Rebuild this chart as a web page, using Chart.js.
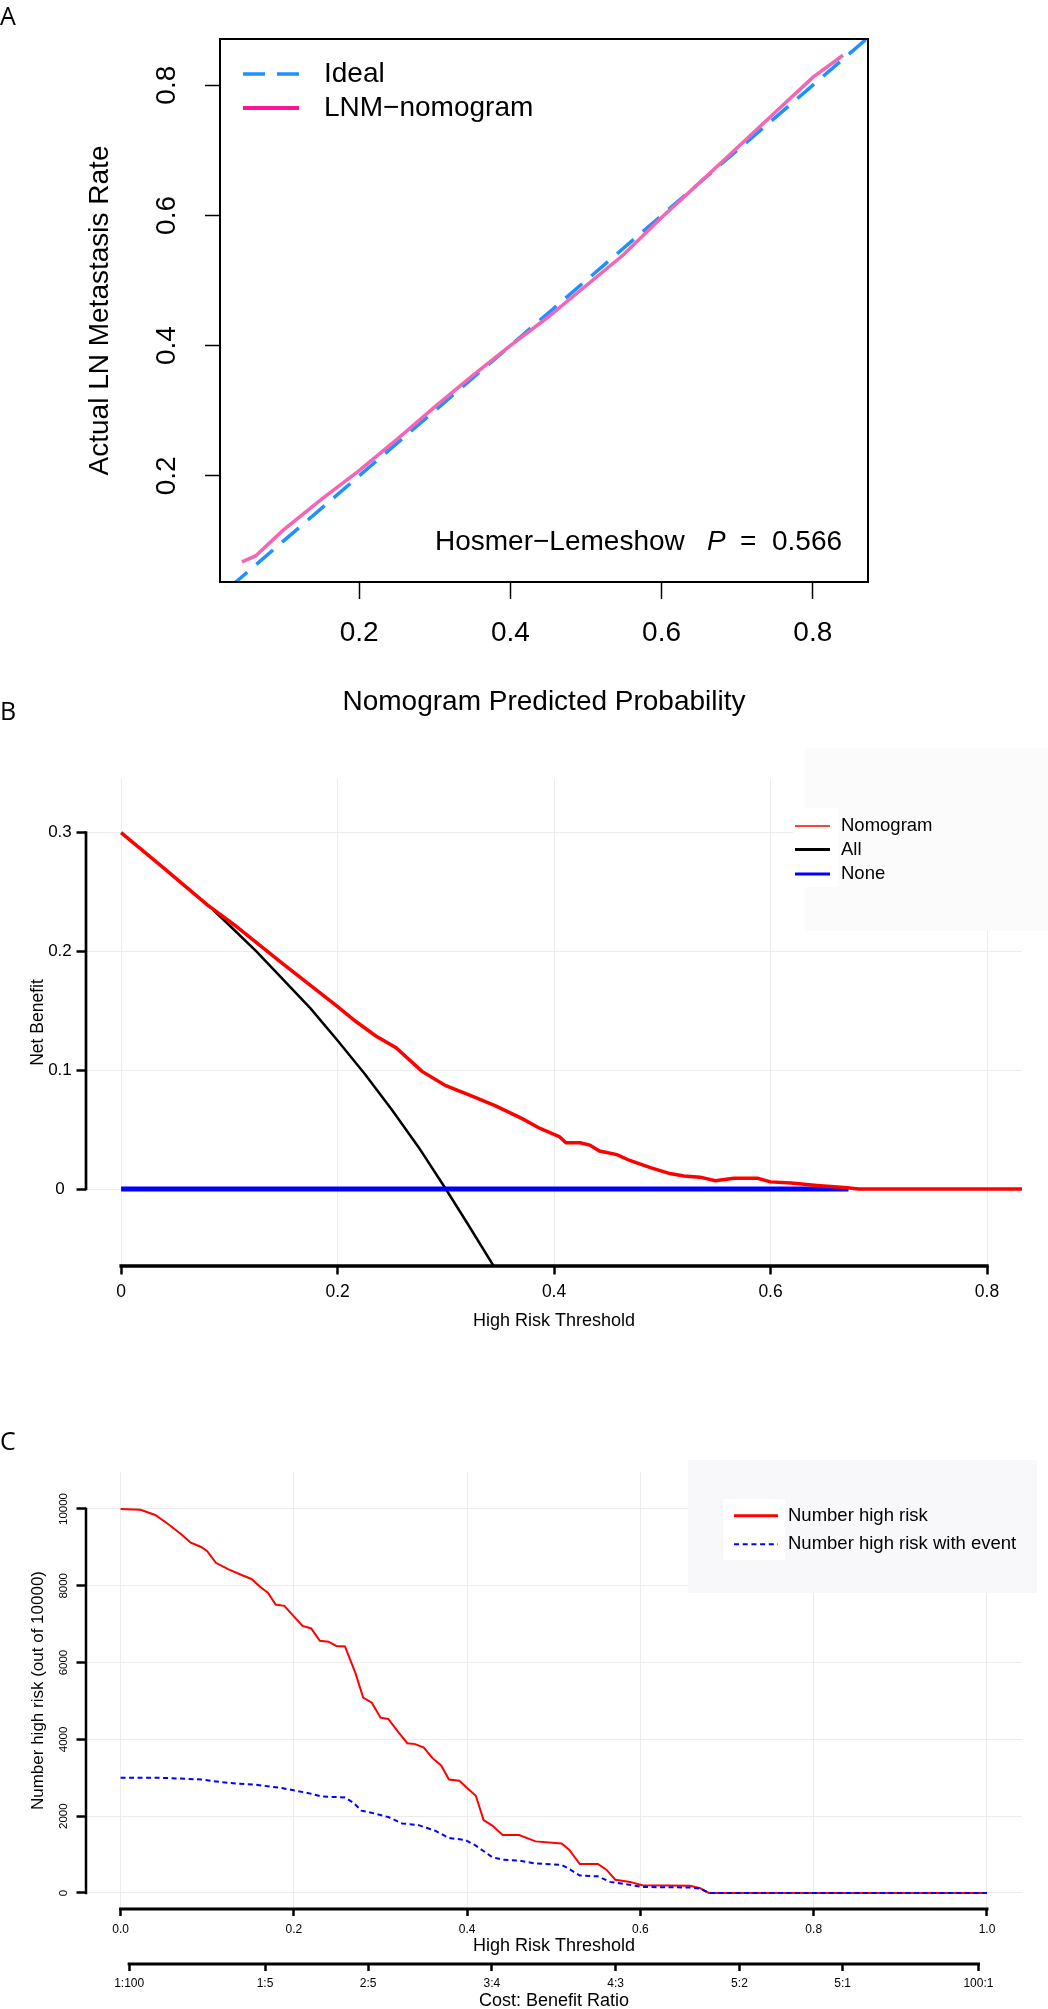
<!DOCTYPE html>
<html>
<head>
<meta charset="utf-8">
<script src="https://cdn.jsdelivr.net/npm/chart.js@4.4.1/dist/chart.umd.min.js"></script>
<style>
	html, body { margin: 0; padding: 0; background: #fff; overflow: hidden; }
	body { width: 1048px; height: 2009px; position: relative; }
	canvas { position: absolute; left: 0; }
	.tag { position: absolute; left: 0; font-family: "Open Sans", sans-serif; font-size: 25px; line-height: 25px; color: #000; }
</style>
</head>
<body>
<canvas id="calChart" width="1048" height="720" style="top:0"></canvas>
<canvas id="dcaChart" width="1048" height="640" style="top:700px"></canvas>
<canvas id="cicChart" width="1048" height="680" style="top:1340px"></canvas>
<div class="tag" style="top:3px">A</div>
<div class="tag" style="top:698px">B</div>
<div class="tag" style="top:1428px">C</div>
<script>
// Panel A: calibration curve
const calPred = [0.045, 0.063, 0.10, 0.15, 0.20, 0.25, 0.30, 0.35, 0.40, 0.45, 0.50, 0.55, 0.58, 0.60, 0.65, 0.70, 0.75, 0.80, 0.84];
const calObs = [0.068, 0.077, 0.117, 0.164, 0.208, 0.256, 0.306, 0.354, 0.400, 0.444, 0.492, 0.540, 0.574, 0.597, 0.650, 0.704, 0.758, 0.812, 0.846];
const idealPred = [0.03, 0.88];
const idealObs = [0.03, 0.88];
const calTicks = [0.2, 0.4, 0.6, 0.8];

// Panel B: decision curve
const nomoThr = [0, 0.037, 0.080, 0.105, 0.149, 0.198, 0.217, 0.235, 0.254, 0.278, 0.300, 0.322, 0.346, 0.371, 0.387, 0.405, 0.411, 0.424, 0.433, 0.442, 0.458, 0.470, 0.489, 0.507, 0.520, 0.535, 0.549, 0.566, 0.588, 0.600, 0.619, 0.643, 0.671, 0.681, 0.833];
const nomoNB = [0.300, 0.272, 0.239, 0.222, 0.190, 0.155, 0.141, 0.129, 0.119, 0.099, 0.087, 0.079, 0.070, 0.059, 0.051, 0.044, 0.039, 0.039, 0.037, 0.032, 0.029, 0.024, 0.018, 0.013, 0.011, 0.010, 0.007, 0.009, 0.009, 0.006, 0.005, 0.003, 0.001, 0, 0];
const allThr = [0.085, 0.10, 0.125, 0.15, 0.175, 0.20, 0.225, 0.25, 0.275, 0.30, 0.32, 0.345];
const allNB = [0.235, 0.222, 0.200, 0.176, 0.152, 0.125, 0.097, 0.067, 0.035, 0.000, -0.029, -0.066];
const noneThr = [0, 0.672];
const noneNB = [0, 0];
const dcaXTicks = [0, 0.2, 0.4, 0.6, 0.8];
const dcaYTicks = [0, 0.1, 0.2, 0.3];

// Panel C: clinical impact curve
const highThr = [0, 0.023, 0.040, 0.054, 0.070, 0.081, 0.093, 0.100, 0.110, 0.124, 0.139, 0.151, 0.162, 0.170, 0.179, 0.189, 0.201, 0.210, 0.220, 0.230, 0.240, 0.249, 0.259, 0.271, 0.280, 0.290, 0.300, 0.309, 0.321, 0.331, 0.340, 0.350, 0.360, 0.370, 0.379, 0.391, 0.400, 0.410, 0.419, 0.429, 0.441, 0.460, 0.479, 0.509, 0.518, 0.530, 0.551, 0.561, 0.571, 0.588, 0.602, 0.657, 0.669, 0.679, 1.0];
const highRisk = [10000, 9978, 9844, 9621, 9344, 9121, 9010, 8899, 8599, 8432, 8288, 8177, 7955, 7821, 7510, 7477, 7177, 6955, 6888, 6566, 6544, 6433, 6422, 5733, 5088, 4955, 4566, 4533, 4177, 3900, 3877, 3788, 3511, 3322, 2955, 2922, 2733, 2533, 1900, 1755, 1511, 1511, 1344, 1289, 1122, 755, 755, 600, 344, 289, 200, 189, 122, 0, 0];
const eventThr = [0, 0.046, 0.093, 0.124, 0.155, 0.186, 0.217, 0.232, 0.259, 0.269, 0.278, 0.294, 0.309, 0.325, 0.344, 0.363, 0.379, 0.398, 0.410, 0.429, 0.441, 0.460, 0.479, 0.509, 0.518, 0.530, 0.551, 0.565, 0.588, 0.602, 0.657, 0.669, 0.679, 1.0];
const highEvent = [3000, 3000, 2955, 2866, 2822, 2733, 2600, 2511, 2489, 2344, 2144, 2066, 1978, 1811, 1766, 1622, 1433, 1378, 1233, 933, 866, 844, 767, 733, 622, 455, 433, 289, 211, 155, 144, 111, 0, 0];
const cicXTicks = [0, 0.2, 0.4, 0.6, 0.8, 1.0];
const cicYTicks = [0, 2000, 4000, 6000, 8000, 10000];
const ratioPos = [0.0099, 0.1667, 0.2857, 0.4286, 0.5714, 0.7143, 0.8333, 0.9901];
const ratioLabels = ["1:100", "1:5", "2:5", "3:4", "4:3", "5:2", "5:1", "100:1"];

Chart.defaults.font.family = "'Liberation Sans', Arial, sans-serif";
Chart.defaults.color = "#000";

function pts(xs, ys) {
	return xs.map((x, i) => ({ x: x, y: ys[i] }));
}

function setTicks(values) {
	return (scale) => {
		scale.ticks = values.map((v) => ({ value: v }));
	};
}

// R style axis lines that only run between two values
const axisLines = {
	id: "axisLines",
	afterDraw(chart, args, opts) {
		const ctx = chart.ctx;
		(opts.lines || []).forEach((l) => {
			const s = chart.scales[l.scale];
			ctx.save();
			ctx.strokeStyle = "#000";
			ctx.lineWidth = l.width;
			ctx.lineCap = "square";
			ctx.beginPath();
			if (s.isHorizontal()) {
				ctx.moveTo(s.getPixelForValue(l.from), s.top);
				ctx.lineTo(s.getPixelForValue(l.to), s.top);
			} else {
				ctx.moveTo(s.right, s.getPixelForValue(l.from));
				ctx.lineTo(s.right, s.getPixelForValue(l.to));
			}
			ctx.stroke();
			ctx.restore();
		});
	},
};

// legend drawn inside the plot
const keyBox = {
	id: "keyBox",
	afterDraw(chart, args, o) {
		if (!o.rows) return;
		const ctx = chart.ctx;
		ctx.save();
		if (o.bg) {
			ctx.fillStyle = o.bg[4];
			ctx.fillRect(o.bg[0], o.bg[1], o.bg[2], o.bg[3]);
		}
		if (o.keyBg) {
			ctx.fillStyle = "#fff";
			ctx.fillRect(o.keyBg[0], o.keyBg[1], o.keyBg[2], o.keyBg[3]);
		}
		chart.data.datasets.forEach((ds, i) => {
			const y = o.rows[i];
			ctx.strokeStyle = o.colors && o.colors[i] ? o.colors[i] : ds.borderColor;
			ctx.lineWidth = o.widths[i];
			ctx.setLineDash(o.dashes && o.dashes[i] ? o.dashes[i] : []);
			ctx.beginPath();
			ctx.moveTo(o.x0, y);
			ctx.lineTo(o.x1, y);
			ctx.stroke();
			ctx.setLineDash([]);
			ctx.fillStyle = "#000";
			ctx.font = o.font;
			ctx.textBaseline = "middle";
			ctx.textAlign = "left";
			ctx.fillText(ds.label, o.tx, y);
		});
		ctx.restore();
	},
};

// box around panel A plus the Hosmer-Lemeshow note
const calDecor = {
	id: "calDecor",
	afterDraw(chart) {
		const ctx = chart.ctx;
		const a = chart.chartArea;
		ctx.save();
		ctx.strokeStyle = "#000";
		ctx.lineWidth = 2;
		ctx.strokeRect(a.left, a.top, a.right - a.left, a.bottom - a.top);
		ctx.fillStyle = "#000";
		ctx.textBaseline = "middle";
		ctx.textAlign = "left";
		const y = a.bottom - 40;
		ctx.font = "28px 'Liberation Sans'";
		ctx.fillText("Hosmer\u2212Lemeshow", 435, y);
		ctx.font = "italic 28px 'Liberation Sans'";
		ctx.fillText("P", 707, y);
		ctx.font = "28px 'Liberation Sans'";
		ctx.fillText("=", 740, y);
		ctx.fillText("0.566", 772, y);
		ctx.restore();
	},
};

// Panel A
new Chart(document.getElementById("calChart"), {
	type: "line",
	data: {
		datasets: [
			{
				label: "Ideal",
				data: pts(idealPred, idealObs),
				borderColor: "#1e90ff",
				borderWidth: 3.5,
				borderDash: [22, 12],
				pointRadius: 0,
				order: 1,
			},
			{
				label: "LNM\u2212nomogram",
				data: pts(calPred, calObs),
				borderColor: "#f465b5",
				borderWidth: 3.5,
				pointRadius: 0,
				order: 0,
			},
		],
	},
	options: {
		responsive: false,
		animation: false,
		devicePixelRatio: 1,
		layout: { padding: { top: 39, right: 180, left: 0, bottom: 0 } },
		plugins: {
			legend: { display: false },
			tooltip: { enabled: false },
			keyBox: {
				rows: [74, 108],
				x0: 243,
				x1: 299,
				tx: 324,
				widths: [3.5, 4],
				colors: [null, "#ff1493"],
				dashes: [[22, 12], null],
				font: "28px 'Liberation Sans'",
			},
		},
		scales: {
			x: {
				type: "linear",
				min: 0.016,
				max: 0.873,
				afterBuildTicks: setTicks(calTicks),
				afterFit: (s) => { s.height = 138; },
				border: { display: false },
				grid: { drawOnChartArea: false, tickLength: 17, tickColor: "#000", tickWidth: 1.5 },
				ticks: { padding: 17, font: { size: 28 }, maxRotation: 0, autoSkip: false, callback: (v) => v.toFixed(1) },
				title: { display: true, text: "Nomogram Predicted Probability", font: { size: 28 }, padding: { top: 0, bottom: 1 } },
			},
			y: {
				type: "linear",
				min: 0.037,
				max: 0.871,
				afterBuildTicks: setTicks(calTicks),
				afterFit: (s) => { s.width = 220; },
				border: { display: false },
				grid: { drawOnChartArea: false, tickLength: 15, tickColor: "#000", tickWidth: 1.5 },
				ticks: { padding: 18, font: { size: 28 }, minRotation: 90, maxRotation: 90, crossAlign: "center", autoSkip: false, callback: (v) => v.toFixed(1) },
				title: { display: true, text: "Actual LN Metastasis Rate", font: { size: 28 }, padding: { top: 83, bottom: 0 } },
			},
		},
	},
	plugins: [calDecor, keyBox],
});

// Panel B
new Chart(document.getElementById("dcaChart"), {
	type: "line",
	data: {
		datasets: [
			{
				label: "Nomogram",
				data: pts(nomoThr, nomoNB),
				borderColor: "#ff0000",
				borderWidth: 3.5,
				pointRadius: 0,
				order: 0,
			},
			{
				label: "All",
				data: pts(allThr, allNB),
				borderColor: "#000000",
				borderWidth: 2.5,
				pointRadius: 0,
				order: 2,
			},
			{
				label: "None",
				data: pts(noneThr, noneNB),
				borderColor: "#0000ff",
				borderWidth: 5,
				pointRadius: 0,
				order: 1,
			},
		],
	},
	options: {
		responsive: false,
		animation: false,
		devicePixelRatio: 1,
		layout: { padding: { top: 79, right: 26, left: 0, bottom: 0 } },
		plugins: {
			legend: { display: false },
			tooltip: { enabled: false },
			axisLines: { lines: [{ scale: "x", from: 0, to: 0.8, width: 3.3 }, { scale: "y", from: 0, to: 0.3, width: 2.7 }] },
			keyBox: {
				bg: [805, 48, 243, 183, "#fbfbfb"],
				keyBg: [793, 108, 45, 79],
				rows: [126, 149.5, 174],
				x0: 795,
				x1: 830,
				tx: 841,
				widths: [1.5, 3, 3],
				font: "18.5px 'Liberation Sans'",
			},
		},
		scales: {
			x: {
				type: "linear",
				min: -0.0324,
				max: 0.8323,
				afterBuildTicks: setTicks(dcaXTicks),
				afterFit: (s) => { s.height = 74; },
				border: { display: false },
				grid: { color: "#ececec", lineWidth: 1, tickLength: 8.5, tickColor: "#000", tickWidth: 2.5 },
				ticks: { padding: 7.5, font: { size: 17.5 }, maxRotation: 0, autoSkip: false, callback: (v) => String(v) },
				title: { display: true, text: "High Risk Threshold", font: { size: 18 }, padding: { top: 0, bottom: 8.5 } },
			},
			y: {
				type: "linear",
				min: -0.0648,
				max: 0.3451,
				afterBuildTicks: setTicks(dcaYTicks),
				afterFit: (s) => { s.width = 86; },
				border: { display: false },
				grid: { color: "#ececec", lineWidth: 1, tickLength: 9.5, tickColor: "#000", tickWidth: 2.5 },
				ticks: { padding: 4.7, font: { size: 17 }, crossAlign: "center", autoSkip: false, callback: (v) => String(v) },
				title: { display: true, text: "Net Benefit", font: { size: 17.5 }, padding: { top: 27.5, bottom: 0 } },
			},
		},
	},
	plugins: [axisLines, keyBox],
});

// Panel C
new Chart(document.getElementById("cicChart"), {
	type: "line",
	data: {
		datasets: [
			{
				label: "Number high risk",
				data: pts(highThr, highRisk),
				borderColor: "#ff0000",
				borderWidth: 2,
				pointRadius: 0,
				order: 1,
			},
			{
				label: "Number high risk with event",
				data: pts(eventThr, highEvent),
				borderColor: "#0000ff",
				borderWidth: 2,
				borderDash: [5, 3.5],
				pointRadius: 0,
				order: 0,
			},
		],
	},
	options: {
		responsive: false,
		animation: false,
		devicePixelRatio: 1,
		layout: { padding: { top: 132, right: 26, left: 0, bottom: 0 } },
		plugins: {
			legend: { display: false },
			tooltip: { enabled: false },
			axisLines: {
				lines: [
					{ scale: "x", from: 0, to: 1, width: 3 },
					{ scale: "x2", from: ratioPos[0], to: ratioPos[ratioPos.length - 1], width: 3 },
					{ scale: "y", from: 0, to: 10000, width: 2.5 },
				],
			},
			keyBox: {
				bg: [688, 120, 349, 133, "#f8f8fb"],
				keyBg: [723, 159, 62, 61],
				rows: [175.7, 204.3],
				x0: 734,
				x1: 778,
				tx: 788,
				widths: [3, 2],
				dashes: [null, [5, 3.7]],
				font: "18.5px 'Liberation Sans'",
			},
		},
		scales: {
			x: {
				type: "linear",
				position: "bottom",
				weight: 0,
				min: -0.0399,
				max: 1.0404,
				afterBuildTicks: setTicks(cicXTicks),
				afterFit: (s) => { s.height = 55; },
				border: { display: false },
				grid: { color: "#ececec", lineWidth: 1, tickLength: 7, tickColor: "#000", tickWidth: 2.5 },
				ticks: { padding: 6.8, font: { size: 12 }, maxRotation: 0, autoSkip: false, callback: (v) => v.toFixed(1) },
				title: { display: true, text: "High Risk Threshold", font: { size: 18 }, padding: { top: 0, bottom: 6.7 } },
			},
			x2: {
				type: "linear",
				position: "bottom",
				weight: 1,
				min: -0.0399,
				max: 1.0404,
				afterBuildTicks: setTicks(ratioPos),
				afterFit: (s) => { s.height = 56; },
				border: { display: false },
				grid: { drawOnChartArea: false, tickLength: 7, tickColor: "#000", tickWidth: 2.5 },
				ticks: { padding: 5.8, font: { size: 12 }, maxRotation: 0, autoSkip: false, callback: (v, i) => ratioLabels[i] },
				title: { display: true, text: "Cost: Benefit Ratio", font: { size: 18 }, padding: { top: 0, bottom: 8.2 } },
			},
			y: {
				type: "linear",
				min: -417,
				max: 10963,
				afterBuildTicks: setTicks(cicYTicks),
				afterFit: (s) => { s.width = 86; },
				border: { display: false },
				grid: { color: "#ececec", lineWidth: 1, tickLength: 9.5, tickColor: "#000", tickWidth: 2.5 },
				ticks: { padding: -3, font: { size: 11.5 }, minRotation: 90, maxRotation: 90, crossAlign: "center", autoSkip: false, callback: (v) => String(v) },
				title: { display: true, text: "Number high risk (out of 10000)", font: { size: 17 }, padding: { top: 27.8, bottom: 0 } },
			},
		},
	},
	plugins: [axisLines, keyBox],
});
</script>
</body>
</html>
